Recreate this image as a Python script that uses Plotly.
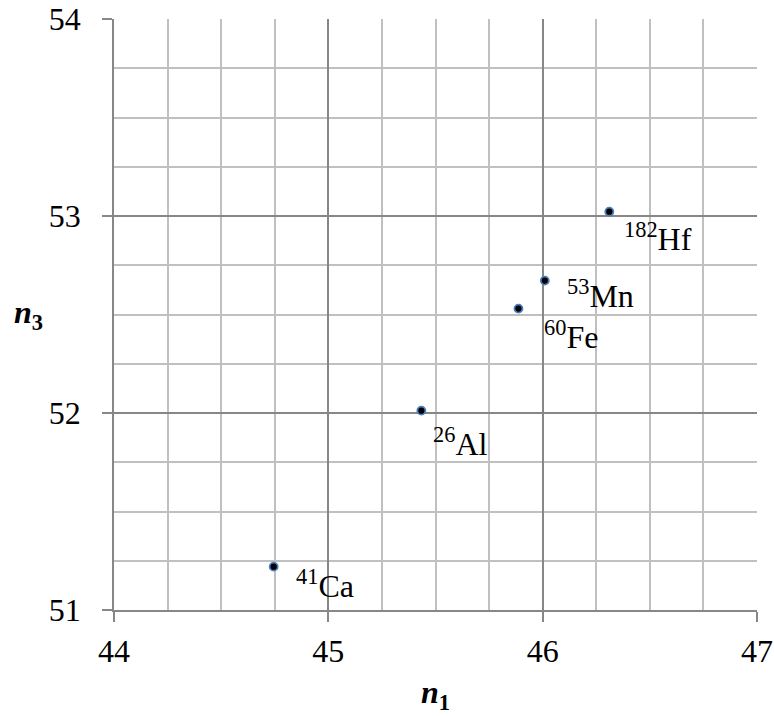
import plotly.graph_objects as go

# Data
isotopes = ["41Ca", "26Al", "60Fe", "53Mn", "182Hf"]
mass_numbers = ["41", "26", "60", "53", "182"]
elements = ["Ca", "Al", "Fe", "Mn", "Hf"]
n1_values = [44.745, 45.434, 45.887, 46.010, 46.311]
n3_values = [51.220, 52.012, 52.530, 52.672, 53.022]

x_ticks = [44, 45, 46, 47]
y_ticks = [51, 52, 53, 54]

# label offsets (pixels) relative to each point: (xshift, yshift)
label_offsets = [(20, 5), (10, -9), (24, -4), (20, 9), (13, -3)]

FONT = "Liberation Serif, Times New Roman, serif"
MAJOR = "#878787"
MINOR = "#c0c0c0"
FS = 32

fig = go.Figure()
fig.add_trace(go.Scatter(
    x=n1_values, y=n3_values, mode="markers",
    marker=dict(size=8, color="black", line=dict(color="#4a7ebb", width=1.8)),
    hoverinfo="skip", showlegend=False,
))

for xv, yv, m, el, (dx, dy) in zip(n1_values, n3_values, mass_numbers, elements, label_offsets):
    fig.add_annotation(
        x=xv, y=yv, xref="x", yref="y",
        text=f"<sup>{m}</sup>{el}", showarrow=False,
        xanchor="left", yanchor="top", xshift=dx, yshift=dy,
        font=dict(family=FONT, size=FS, color="black"),
    )

fig.add_annotation(
    x=0.5, y=0, xref="paper", yref="paper", yshift=-84,
    text="<b><i>n</i></b><sub><b>1</b></sub>", showarrow=False,
    xanchor="center", yanchor="middle",
    font=dict(family=FONT, size=FS, color="black"),
)
fig.add_annotation(
    x=0, y=0.5, xref="paper", yref="paper", xshift=-86,
    text="<b><i>n</i></b><sub><b>3</b></sub>", showarrow=False,
    xanchor="center", yanchor="middle",
    font=dict(family=FONT, size=FS, color="black"),
)

axis_common = dict(
    showgrid=True, gridcolor=MAJOR, gridwidth=1.5,
    showline=True, linecolor=MAJOR, linewidth=1.5,
    ticks="outside", ticklen=10, tickcolor=MAJOR, tickwidth=1.5,
    zeroline=False, automargin=False, ticklabeloverflow="allow",
    tickfont=dict(family=FONT, size=FS, color="black"),
    minor=dict(dtick=0.25, showgrid=True, gridcolor=MINOR, gridwidth=1.5, ticks=""),
)

fig.update_xaxes(range=[x_ticks[0], x_ticks[-1]], tickvals=x_ticks,
                 ticktext=[str(v) for v in x_ticks], ticklabelstandoff=2, **axis_common)
fig.update_yaxes(range=[y_ticks[0], y_ticks[-1]], tickvals=y_ticks,
                 ticktext=[str(v) for v in y_ticks], ticklabelstandoff=15, **axis_common)

fig.update_layout(
    width=774, height=716,
    margin=dict(l=114, r=17, t=19, b=106),
    paper_bgcolor="white", plot_bgcolor="white",
    font=dict(family=FONT, size=FS, color="black"),
)

fig.write_html(
    "out.html",
    config={"displayModeBar": False},
    post_script="document.body.style.margin='0';document.documentElement.style.overflow='hidden';document.body.style.overflow='hidden';",
)
